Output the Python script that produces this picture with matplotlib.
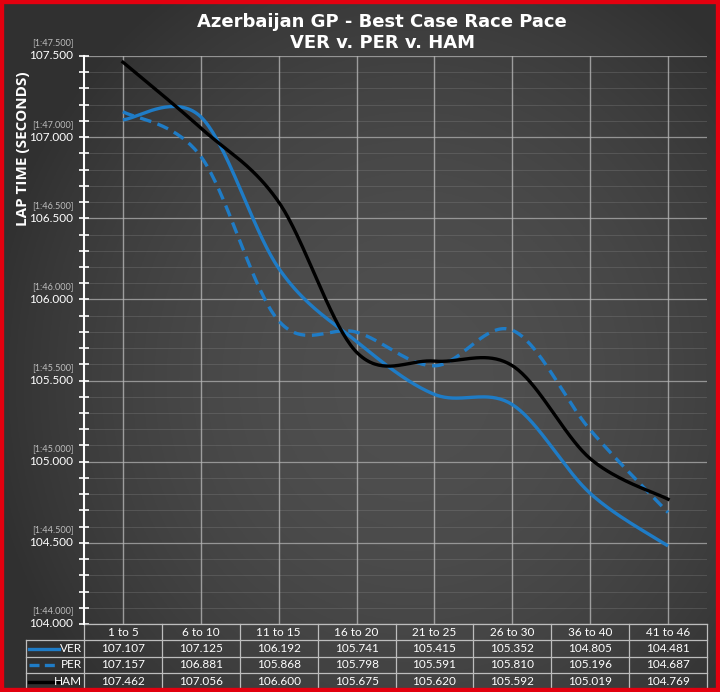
import numpy as np
import matplotlib
matplotlib.use("Agg")
import matplotlib.pyplot as plt
from matplotlib.transforms import blended_transform_factory
from matplotlib.patches import Rectangle

categories = ["1 to 5", "6 to 10", "11 to 15", "16 to 20", "21 to 25", "26 to 30", "36 to 40", "41 to 46"]
ver = [107.107, 107.125, 106.192, 105.741, 105.415, 105.352, 104.805, 104.481]
per = [107.157, 106.881, 105.868, 105.798, 105.591, 105.810, 105.196, 104.687]
ham = [107.462, 107.056, 106.600, 105.675, 105.620, 105.592, 105.019, 104.769]
series_names = ["VER", "PER", "HAM"]

BLUE = "#1f7cc6"
W, H = 720, 692


def smooth(y, n=40):
    # Excel-style smoothed line (Catmull-Rom via Bezier segments)
    p = np.column_stack([np.arange(len(y), dtype=float), np.asarray(y, float)])
    pts = np.vstack([p[0], p, p[-1]])
    xs, ys = [], []
    t = np.linspace(0, 1, n)[:, None]
    for i in range(1, len(pts) - 2):
        p0, p1, p2, p3 = pts[i - 1], pts[i], pts[i + 1], pts[i + 2]
        c1 = p1 + (p2 - p0) / 6
        c2 = p2 - (p3 - p1) / 6
        seg = ((1 - t) ** 3) * p1 + 3 * ((1 - t) ** 2) * t * c1 + 3 * (1 - t) * t ** 2 * c2 + t ** 3 * p2
        xs.append(seg[:, 0])
        ys.append(seg[:, 1])
    return np.concatenate(xs), np.concatenate(ys)


def fy(px):
    return 1 - px / H


fig = plt.figure(figsize=(7.2, 6.92), dpi=100)

# background gradient
bg = fig.add_axes([0, 0, 1, 1], zorder=-5)
gx, gy = np.meshgrid(np.linspace(-1, 1, 400), np.linspace(-1, 1, 400))
r = np.sqrt(((gx - 0.15) / 1.15) ** 2 + ((gy + 0.1) / 1.3) ** 2)
shade = np.clip(0.31 - 0.11 * r ** 2, 0.19, 0.31)
bg.imshow(np.dstack([shade] * 3), extent=[0, 1, 0, 1], aspect="auto", origin="lower")
bg.axis("off")

ax = fig.add_axes([84 / W, fy(624), (707 - 84) / W, (624 - 56) / H])
ax.patch.set_alpha(0)

ax.plot(*smooth(ver), color=BLUE, lw=2.4, solid_capstyle="butt", zorder=3)
ax.plot(*smooth(per), color=BLUE, lw=2.4, dashes=(3.5, 2.0), zorder=3)
ax.plot(*smooth(ham), color="black", lw=2.4, zorder=4)

ax.set_xlim(-0.5, len(categories) - 0.5)
ax.set_ylim(104.0, 107.5)
ax.set_xticks(range(len(categories)))
ax.set_xticklabels([])
ax.tick_params(axis="x", length=0)
ax.grid(axis="x", color="#b5b5b5", lw=1.0, alpha=0.8)

major = np.arange(104.0, 107.51, 0.5)
minor = np.arange(104.0, 107.51, 0.1)
ax.set_yticks(major)
ax.set_yticks(minor, minor=True)
ax.set_yticklabels([])
for v in major:
    ax.axhline(v, color="#b0b0b0", lw=0.9, alpha=0.8, zorder=1)
for v in minor:
    ax.axhline(v, color="#8a8a8a", lw=0.6, alpha=0.35, zorder=1)
ax.tick_params(axis="y", which="both", direction="inout", color="white", width=1.2, length=7)

for s in ["top", "right", "bottom"]:
    ax.spines[s].set_visible(False)
ax.spines["left"].set_color("white")
ax.spines["left"].set_linewidth(1.5)

# y tick labels: seconds and [m:ss.sss]
for v in major:
    m = int(v // 60)
    sec = v - 60 * m
    ax.text(-0.64, v, f"{v:.3f}", ha="right", va="center", color="white", fontsize=8.5,
            family="Lato")
    ax.text(-0.635, v + 0.08, f"[{m}:{sec:06.3f}]", ha="right", va="center",
            color="#bdbdbd", fontsize=6.6, family="Lato")

fig.text(23 / W, fy(149), "LAP TIME (SECONDS)", rotation=90, ha="center", va="center",
         color="white", fontsize=11, fontweight="bold", family="Open Sans")

fig.text(382 / W, fy(22), "Azerbaijan GP - Best Case Race Pace", ha="center", va="center",
         color="white", fontsize=13, fontweight="bold", family="DejaVu Sans")
fig.text(382 / W, fy(43), "VER v. PER v. HAM", ha="center", va="center",
         color="white", fontsize=13, fontweight="bold", family="DejaVu Sans")

# data table under the axis
tr = blended_transform_factory(ax.transData, fig.transFigure)
row_px = [624, 640, 657, 673, 690]
x_left = (26 - 84) / ((707 - 84) / 8) - 0.5
x_edges = np.arange(len(categories) + 1) - 0.5
line_kw = dict(color="#bdbdbd", lw=0.9, transform=tr, clip_on=False)

ax.plot([x_edges[0], x_edges[-1]], [fy(row_px[0])] * 2, **line_kw)
for yp in row_px[1:]:
    ax.plot([x_left, x_edges[-1]], [fy(yp)] * 2, **line_kw)
for xe in x_edges:
    ax.plot([xe, xe], [fy(row_px[0]), fy(row_px[-1])], **line_kw)
ax.plot([x_left, x_left], [fy(row_px[1]), fy(row_px[-1])], **line_kw)

for i, c in enumerate(categories):
    ax.text(i, fy((row_px[0] + row_px[1]) / 2), c, ha="center", va="center", color="white",
            fontsize=8.5, family="Lato", transform=tr)

series = [ver, per, ham]
styles = [dict(color=BLUE), dict(color=BLUE, dashes=(3.0, 1.6)), dict(color="black")]
for r_i, (name, vals, st) in enumerate(zip(series_names, series, styles)):
    yc = fy((row_px[r_i + 1] + row_px[r_i + 2]) / 2)
    for i, v in enumerate(vals):
        ax.text(i, yc, f"{v:.3f}", ha="center", va="center", color="white",
                fontsize=8.5, family="Lato", transform=tr)
    ax.plot([x_left + 0.04, x_left + 0.42], [yc, yc], lw=2.4, transform=tr, clip_on=False, **st)
    ax.text(x_edges[0] - 0.03, yc, name, ha="right", va="center", color="white",
            fontsize=8.5, family="Lato", transform=tr)

fig.patches.append(Rectangle((0, 0), 1, 1, transform=fig.transFigure, fill=False,
                             edgecolor="#e3000f", lw=6, zorder=10))

fig.savefig("out.png", dpi=100)
